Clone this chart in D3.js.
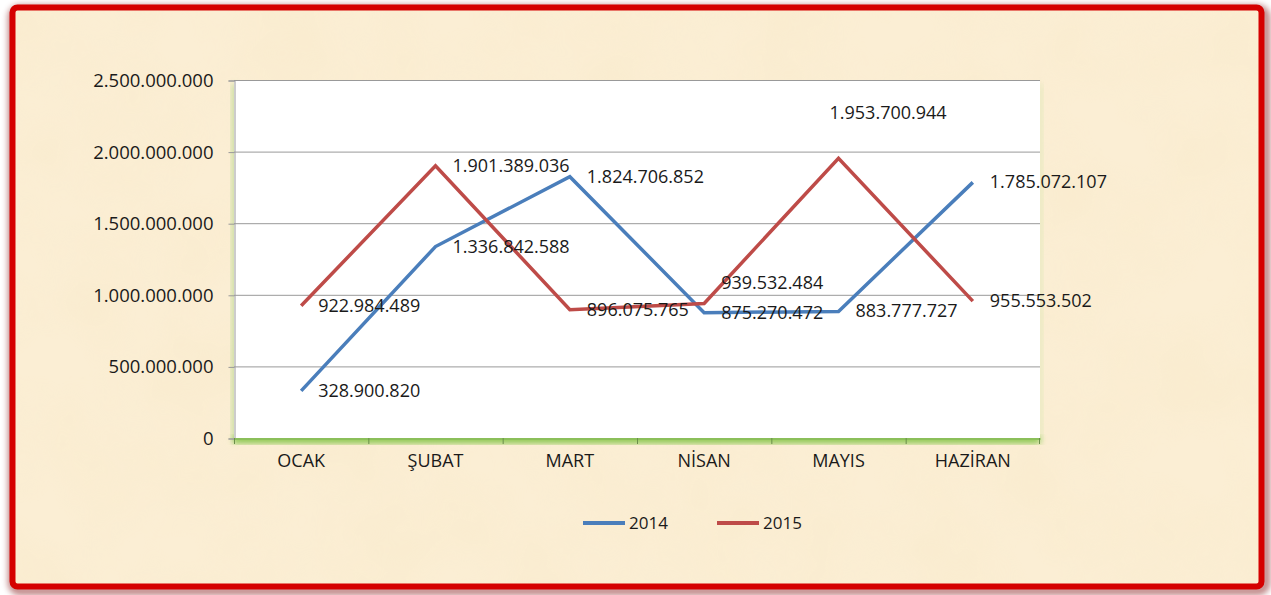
<html>
<head>
<meta charset="utf-8">
<script src="https://d3js.org/d3.v7.min.js"></script>
<style>
body { margin: 0; background: #ffffff; }
text { font-family: "Open Sans", "Noto Sans", sans-serif; fill: #1a1a1a; }
</style>
</head>
<body>
<svg id="chart"></svg>
<script>

var months = ["OCAK", "ŞUBAT", "MART", "NİSAN", "MAYIS", "HAZİRAN"];
var years = ["2014", "2015"];
var values2014 = [328900820, 1336842588, 1824706852, 875270472, 883777727, 1785072107];
var values2015 = [922984489, 1901389036, 896075765, 939532484, 1953700944, 955553502];
var yTicks = [0, 500000000, 1000000000, 1500000000, 2000000000, 2500000000];

page();

function page(){
	var width = 1271, height = 595;
	var svg = d3.select("#chart").attr("width", width).attr("height", height);
	var defs = svg.append("defs");

	// parchment texture
	var f = defs.append("filter").attr("id", "paper").attr("x", 0).attr("y", 0).attr("width", 1).attr("height", 1);
	f.append("feTurbulence").attr("type", "fractalNoise").attr("baseFrequency", 0.012).attr("numOctaves", 3).attr("seed", 4).attr("result", "n");
	f.append("feColorMatrix").attr("in", "n").attr("type", "matrix")
		.attr("values", "0 0 0 0 0.93  0 0 0 0 0.80  0 0 0 0 0.55  0.9 0 0 0 -0.25").attr("result", "c");
	f.append("feComposite").attr("in", "c").attr("in2", "SourceGraphic").attr("operator", "in");

	var sh = defs.append("filter").attr("id", "shadow").attr("x", -0.05).attr("y", -0.05).attr("width", 1.1).attr("height", 1.1);
	sh.append("feGaussianBlur").attr("stdDeviation", 3);

	var glow = defs.append("filter").attr("id", "glow").attr("x", -0.2).attr("y", -0.2).attr("width", 1.4).attr("height", 1.4);
	glow.append("feGaussianBlur").attr("stdDeviation", 3);

	// frame
	svg.append("rect").attr("x", 12).attr("y", 9).attr("width", 1254).attr("height", 582).attr("rx", 8)
		.style("fill", "none").style("stroke", "#7a0000").style("stroke-width", 8).style("opacity", 0.5)
		.attr("filter", "url(#shadow)");
	svg.append("rect").attr("x", 13).attr("y", 8).attr("width", 1248).attr("height", 578)
		.style("fill", "#fbeed4");
	svg.append("rect").attr("x", 13).attr("y", 8).attr("width", 1248).attr("height", 578)
		.style("fill", "#fbeed4").attr("filter", "url(#paper)").style("opacity", 0.5);
	svg.append("rect").attr("x", 12.5).attr("y", 7.5).attr("width", 1249).attr("height", 579).attr("rx", 5)
		.style("fill", "none").style("stroke", "#d50000").style("stroke-width", 6);

	var left = 234, right = 1040, top = 80, bottom = 438;

	var x = d3.scaleBand().domain(months).range([left, right]);
	var y = d3.scaleLinear().domain([0, 2500000000]).range([bottom, top]);

	var tr = d3.formatLocale({decimal: ",", thousands: ".", grouping: [3], currency: ["", " TL"]});
	var fmt = tr.format(",d");

	// plot area glow (green shadow left and bottom)
	svg.append("rect").attr("x", left - 2).attr("y", top + 4).attr("width", 6).attr("height", bottom - top)
		.style("fill", "#b5d88a").attr("filter", "url(#glow)").style("opacity", 0.8);
	svg.append("rect").attr("x", left).attr("y", bottom - 2).attr("width", right - left).attr("height", 7)
		.style("fill", "#7cc23c").attr("filter", "url(#glow)");
	svg.append("rect").attr("x", right - 1).attr("y", top + 4).attr("width", 4).attr("height", bottom - top)
		.style("fill", "#d8e6b0").attr("filter", "url(#glow)").style("opacity", 0.7);
	svg.append("rect").attr("x", left).attr("y", top).attr("width", right - left).attr("height", bottom - top)
		.style("fill", "#ffffff");

	// gridlines
	svg.append("g").selectAll("line").data(yTicks.slice(1)).enter().append("line")
		.attr("x1", left).attr("x2", right)
		.attr("y1", function(d){ return y(d) + 0.5; }).attr("y2", function(d){ return y(d) + 0.5; })
		.style("stroke", "#999999").style("stroke-width", 1);

	// y axis
	var yAxis = svg.append("g").attr("transform", "translate(" + (left + 0.5) + ",0.5)")
		.call(d3.axisLeft(y).tickValues(yTicks).tickFormat(fmt).tickSize(6).tickPadding(15));
	yAxis.select(".domain").style("stroke", "#999999");
	yAxis.selectAll(".tick line").style("stroke", "#999999");
	yAxis.selectAll("text").style("font-size", "18.5px").style("fill", "#1a1a1a");

	// x axis
	var xAxis = svg.append("g").attr("transform", "translate(0," + (bottom + 0.5) + ")")
		.call(d3.axisBottom(x).tickSize(0).tickPadding(16));
	xAxis.select(".domain").style("stroke", "#8bbf5a").style("stroke-width", 2);
	xAxis.selectAll("text").style("font-size", "18px").style("fill", "#1a1a1a");
	svg.append("g").selectAll("line").data(months).enter().append("line")
		.attr("x1", function(d){ return x(d) + 0.5; }).attr("x2", function(d){ return x(d) + 0.5; })
		.attr("y1", bottom).attr("y2", bottom + 6)
		.style("stroke", "#6b8f4a").style("stroke-width", 1);
	svg.append("line").attr("x1", right - 0.5).attr("x2", right - 0.5).attr("y1", bottom).attr("y2", bottom + 6)
		.style("stroke", "#6b8f4a");

	var series = [
		{name: years[0], values: values2014, color: "#4a7ebb"},
		{name: years[1], values: values2015, color: "#be4b48"}
	];
	// label nudges where the default spot clashes
	var nudge = {"2015-3": [0, -20], "2015-4": [-26, -45]};

	var line = d3.line()
		.x(function(d, i){ return x(months[i]) + x.bandwidth() / 2; })
		.y(function(d){ return y(d); });

	series.forEach(function(s){
		svg.append("path").datum(s.values).attr("d", line)
			.style("fill", "none").style("stroke", s.color).style("stroke-width", 3.5)
			.style("stroke-linejoin", "miter");
	});

	series.forEach(function(s){
		svg.append("g").selectAll("text").data(s.values).enter().append("text")
			.attr("x", function(d, i){
				var n = nudge[s.name + "-" + i];
				return x(months[i]) + x.bandwidth() / 2 + 17 + (n ? n[0] : 0);
			})
			.attr("y", function(d, i){
				var n = nudge[s.name + "-" + i];
				return y(d) + 6 + (n ? n[1] : 0);
			})
			.style("font-size", "18px")
			.text(function(d){ return fmt(d); });
	});

	// legend
	var lg = svg.append("g").attr("transform", "translate(583,523)");
	series.forEach(function(s, i){
		var g = lg.append("g").attr("transform", "translate(" + (i * 134) + ",0)");
		g.append("line").attr("x1", 0).attr("x2", 42).attr("y1", 0).attr("y2", 0)
			.style("stroke", s.color).style("stroke-width", 4);
		g.append("text").attr("x", 46).attr("y", 6).style("font-size", "17px").text(s.name);
	});
}

</script>
</body>
</html>
